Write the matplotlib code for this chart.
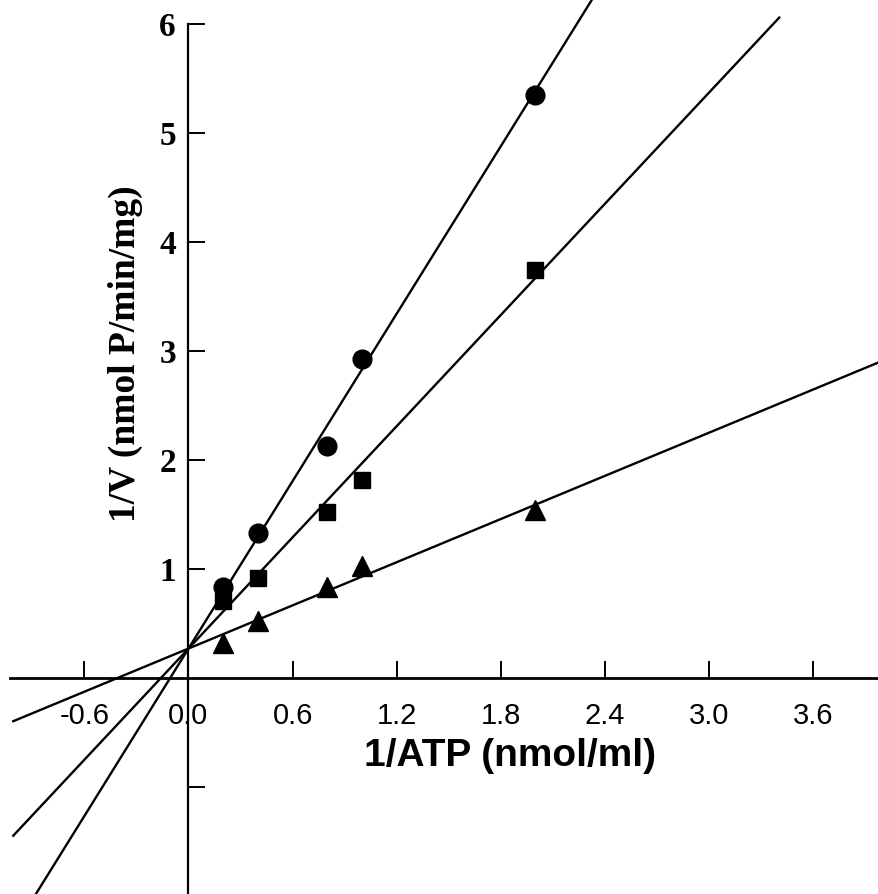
import matplotlib
matplotlib.use("Agg")
import matplotlib.pyplot as plt
import numpy as np

# 1/[ATP] values
x_atp = [0.2, 0.4, 0.8, 1.0, 2.0]

# 1/V for the three series
v_circle = [0.83, 1.33, 2.13, 2.93, 5.35]
v_square = [0.71, 0.92, 1.52, 1.82, 3.74]
v_triangle = [0.32, 0.52, 0.83, 1.03, 1.54]

# fitted lines: slope, intercept, x range
slopes = [2.56, 1.70, 0.66]
intercepts = [0.27, 0.27, 0.27]
line_x0 = [-0.95, -1.01, -1.01]
line_x1 = [2.45, 3.405, 4.1]

x_ticks = [-0.6, 0.0, 0.6, 1.2, 1.8, 2.4, 3.0, 3.6]
x_tick_labels = ["-0.6", "0.0", "0.6", "1.2", "1.8", "2.4", "3.0", "3.6"]
y_ticks = [-1, 1, 2, 3, 4, 5, 6]
y_tick_labels = ["", "1", "2", "3", "4", "5", "6"]

fig = plt.figure(figsize=(8.79, 8.94), dpi=100)
ax = fig.add_axes([0, 0, 1, 1])

# regression lines
for s, b, a0, a1 in zip(slopes, intercepts, line_x0, line_x1):
    xs = np.array([a0, a1])
    ax.plot(xs, s * xs + b, color="black", linewidth=1.7)

ax.plot(x_atp, v_circle, "o", color="black", markersize=13.5)
ax.plot(x_atp, v_square, "s", color="black", markersize=11.5)
ax.plot(x_atp, v_triangle, "^", color="black", markersize=14)

ax.set_xlim(-1.0865, 3.98)
ax.set_ylim(-1.982, 6.22)

# axes through the origin
for side in ["top", "right"]:
    ax.spines[side].set_visible(False)
ax.spines["left"].set_position(("data", 0))
ax.spines["bottom"].set_position(("data", 0))
ax.spines["left"].set_bounds(-2.1, 6)
ax.spines["bottom"].set_bounds(-1.03, 4.0)
ax.spines["left"].set_linewidth(1.6)
ax.spines["bottom"].set_linewidth(2.0)

ax.set_xticks(x_ticks)
ax.set_xticklabels(x_tick_labels, family="Liberation Sans", fontsize=21)
ax.set_yticks(y_ticks)
ax.set_yticklabels(y_tick_labels, family="Liberation Serif", fontweight="bold", fontsize=24)
ax.tick_params(axis="x", direction="in", length=12, width=1.4, pad=17)
ax.tick_params(axis="y", direction="in", length=12, width=1.4, pad=9)

fig.text(510 / 879, 1 - 756 / 894, "1/ATP (nmol/ml)", family="Liberation Sans",
         fontweight="bold", fontsize=28, ha="center", va="center")
fig.text(125 / 879, 1 - 354 / 894, "1/V (nmol P/min/mg)", family="Liberation Serif",
         fontweight="bold", fontsize=27, rotation=90, ha="center", va="center")

fig.savefig("out.png", dpi=100)
